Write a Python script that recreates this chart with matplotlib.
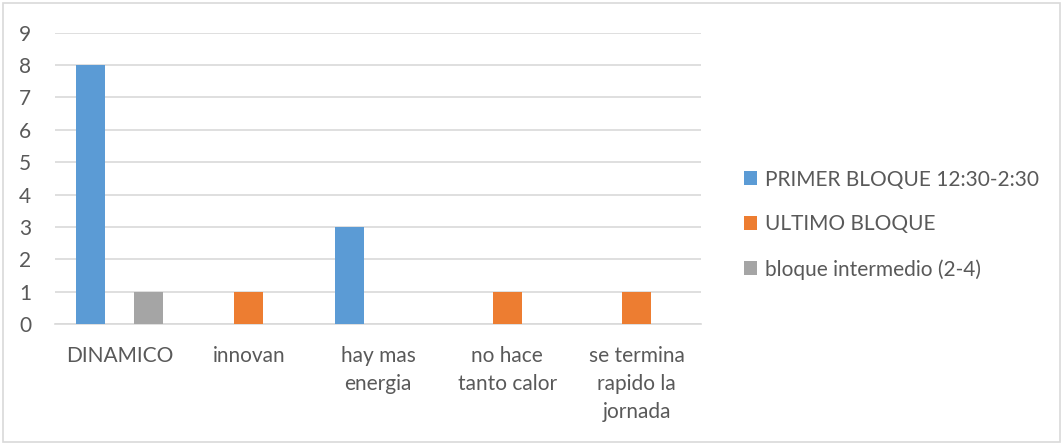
import numpy as np
import matplotlib.pyplot as plt
from matplotlib.patches import Rectangle

categories = ["DINAMICO", "innovan", "hay mas\nenergia", "no hace\ntanto calor",
              "se termina\nrapido la\njornada"]
series_names = ["PRIMER BLOQUE 12:30-2:30", "ULTIMO BLOQUE", "bloque intermedio (2-4)"]
primer = [8, 0, 3, 0, 0]
ultimo = [0, 1, 0, 1, 1]
intermedio = [1, 0, 0, 0, 0]
colors = ["#5b9bd5", "#ed7d31", "#a5a5a5"]

plt.rcParams['font.family'] = ['Lato', 'DejaVu Sans']

fig = plt.figure(figsize=(10.63, 4.44), dpi=100)
ax = fig.add_axes([0.0517, 0.2703, 0.608, 0.6561])

x = np.arange(len(categories))
w = 0.224
handles = []
for i, (vals, name) in enumerate(zip([primer, ultimo, intermedio], series_names)):
    h = ax.bar(x + (i - 1) * w, vals, w, color=colors[i], label=name, zorder=3)
    handles.append(h)

ax.set_xlim(-0.5, len(categories) - 0.5)
ax.set_ylim(0, 9)
ax.set_yticks(range(10))
ax.yaxis.grid(True, color="#d9d9d9", lw=1.2, zorder=0)
for s in ["top", "right", "left"]:
    ax.spines[s].set_visible(False)
ax.spines["bottom"].set_color("#d9d9d9")
ax.spines["bottom"].set_linewidth(1.2)
ax.tick_params(length=0, colors="#595959", labelsize=15)
ax.tick_params(axis="y", pad=17)
ax.tick_params(axis="x", pad=15.5)
ax.set_xticks(x)
ax.set_xticklabels(categories, linespacing=1.5, va="top")

leg = fig.legend(handles=handles, loc="center left", bbox_to_anchor=(0.682, 0.494),
                 frameon=False, fontsize=15, handlelength=0.65, handleheight=0.65,
                 handletextpad=0.35, labelspacing=1.19, labelcolor="#595959")

fig.patches.append(Rectangle((0.003, 0.005), 0.994, 0.989, transform=fig.transFigure,
                             fill=False, edgecolor="#d9d9d9", lw=1.2))

fig.savefig("out.png", dpi=100)
